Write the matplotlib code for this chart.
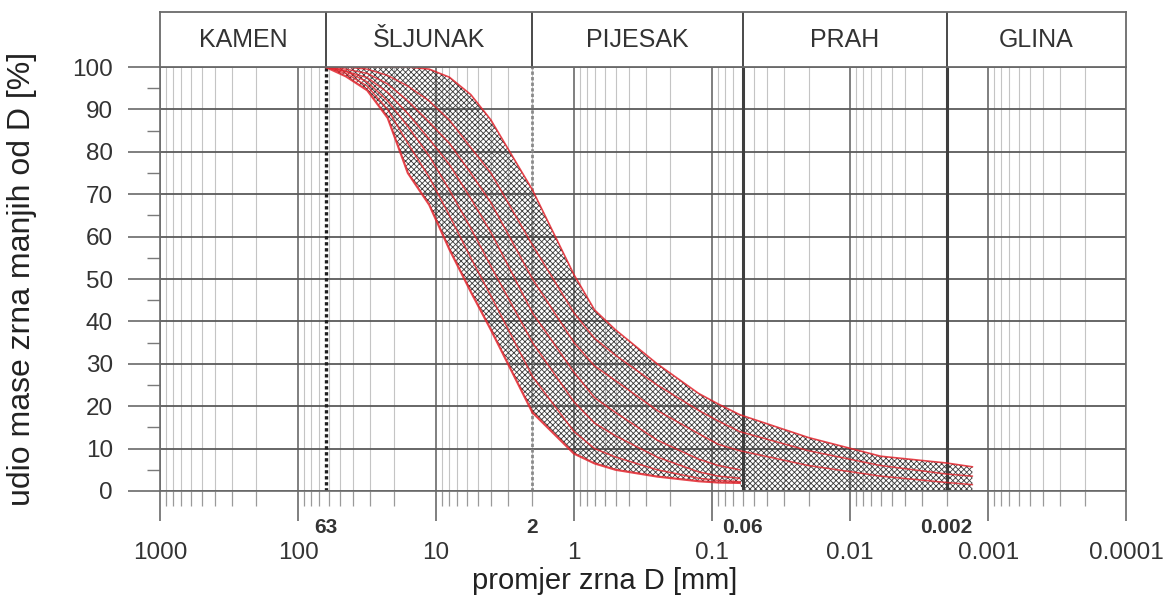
import matplotlib
matplotlib.use('Agg')
import matplotlib.pyplot as plt
from matplotlib.ticker import FixedLocator, NullFormatter, FixedFormatter
import matplotlib.transforms as mtransforms

plt.rcParams['font.family'] = ['Liberation Sans', 'DejaVu Sans']
plt.rcParams['hatch.linewidth'] = 0.6

# grain size classes (boundaries in mm)
zone_names = ['KAMEN', 'ŠLJUNAK', 'PIJESAK', 'PRAH', 'GLINA']
zone_bounds = [1000, 63, 2, 0.06, 0.002, 0.0001]
bound_labels = ['63', '2', '0.06', '0.002']

# sieve and hydrometer sizes [mm]
sieve_d = [63, 45, 31.5, 22.4, 16, 11.2, 8, 5.6, 4, 2, 1, 0.71, 0.5, 0.25,
           0.125, 0.09, 0.063]
hydro_d = [0.02, 0.006, 0.002, 0.0013]

# envelope of all samples (% passing)
env_upper = [100, 100, 100, 100, 100, 99.5, 97.6, 93.5, 87.5, 71, 51, 42.7,
             38, 30, 23, 20.5, 18,
             12.6, 8.2, 6.6, 5.7]
env_lower_d = sieve_d + [0.06, 0.0013]
env_lower = [100, 97.8, 94.5, 88, 75, 67.5, 57, 47, 38, 18.5, 8.8, 6.5, 5,
             3.4, 2.3, 2.0, 1.9,
             0, 0]

# individual grading curves inside the envelope
curve_b = [100, 100, 99.5, 98, 95.5, 92, 87.5, 81, 75, 58, 42, 36, 32, 25,
           19, 16.5, 14, 9.5, 6, 4, 3.5]
curve_c = [100, 99.5, 98.5, 96, 92, 87, 82, 75, 68, 50, 35, 29.5, 26, 19,
           13.5, 11, 9.5, 6, 3.5, 2, 1.5]
curve_d = [100, 99, 97.5, 94, 89, 83, 77, 69, 61, 42, 28, 22, 18.5, 12,
           7.5, 6, 5]
curve_e = [100, 99, 96.5, 92, 86, 79, 71, 62, 53, 35, 21, 16, 13, 8,
           4.5, 3.5, 3]
curve_f = [100, 98.5, 95.5, 90, 82, 74, 65, 55, 46, 27, 14, 10, 8, 5,
           3, 2.5, 2.2]

# axis ticks
x_major = [1000, 100, 10, 1, 0.1, 0.01, 0.001, 0.0001]
x_major_labels = ['1000', '100', '10', '1', '0.1', '0.01', '0.001', '0.0001']
y_major = list(range(0, 101, 10))
y_minor = list(range(5, 100, 10))

RED = '#e3262e'
GRID = '#5a5a5a'

fig = plt.figure(figsize=(11.73, 6), dpi=100)
left, width = 0.1364, 0.8236
ax = fig.add_axes([left, 0.1817, width, 0.7066])
ax.set_xscale('log')
ax.set_xlim(1000, 0.0001)
ax.set_ylim(0, 100)

# minor x positions (2..9 in each decade)
x_minor = []
for dec in x_major[1:]:
    for m in range(2, 10):
        x_minor.append(dec * m)

ax.xaxis.set_major_locator(FixedLocator(x_major))
ax.xaxis.set_major_formatter(FixedFormatter(x_major_labels))
ax.xaxis.set_minor_locator(FixedLocator(x_minor))
ax.xaxis.set_minor_formatter(NullFormatter())
ax.yaxis.set_major_locator(FixedLocator(y_major))
ax.yaxis.set_minor_locator(FixedLocator(y_minor))

ax.grid(which='major', axis='y', color=GRID, lw=1.3)
ax.grid(which='major', axis='x', color='#6a6a6a', lw=1.2)
ax.grid(which='minor', axis='x', color='#c4c4c4', lw=0.8)
ax.set_axisbelow(True)

for s in ax.spines.values():
    s.set_color('#6a6a6a')
    s.set_linewidth(1.2)

ax.tick_params(axis='x', which='major', direction='out', length=21.6, width=1.2,
               color='#6a6a6a', pad=15, labelsize=17.5, labelcolor='#333333')
ax.tick_params(axis='x', which='minor', direction='out', length=10.8, width=0.9,
               color='#9a9a9a')
ax.tick_params(axis='y', which='major', direction='out', length=23, width=1.2,
               color='#6a6a6a', pad=11, labelsize=17.5, labelcolor='#333333')
ax.tick_params(axis='y', which='minor', direction='out', length=9.4, width=1.0,
               color='#7a7a7a')

# class boundary lines
ax.axvline(63, color='#1e1e1e', ls=(0, (1, 0.8)), lw=2.4, zorder=1.5)
ax.axvline(2, color='#8a8a8a', ls=(0, (1.2, 0.8)), lw=2.0, zorder=1.5)
ax.axvline(0.06, color='#3e3e3e', lw=2.2, zorder=1.5)
ax.axvline(0.002, color='#3e3e3e', lw=2.2, zorder=1.5)

# bold boundary labels under the axis
trans = mtransforms.blended_transform_factory(ax.transData, ax.transAxes)
for xb, lab in zip(zone_bounds[1:-1], bound_labels):
    ax.text(xb, -0.085, lab, transform=trans, ha='center', va='center',
            fontsize=15, fontweight='bold', color='#333333')

# hatched envelope
all_d = sieve_d + hydro_d
poly_x = all_d + env_lower_d[::-1]
poly_y = env_upper + env_lower[::-1]
ax.fill(poly_x, poly_y, facecolor='none', edgecolor='#3a3a3a', hatch='xxxxxx',
        lw=0, zorder=2)

# red grading curves
ax.plot(all_d, env_upper, color=RED, lw=1.2, alpha=0.85, zorder=3)
ax.plot(env_lower_d[:len(sieve_d)], env_lower[:len(sieve_d)], color=RED,
        lw=1.6, alpha=0.85, zorder=3)
for c in [curve_b, curve_c, curve_d, curve_e, curve_f]:
    ax.plot(all_d[:len(c)], c, color=RED, lw=1.1, alpha=0.8, zorder=3)

ax.set_ylabel('udio mase zrna manjih od D [%]', fontsize=23, color='#222222')
ax.yaxis.set_label_coords(-0.127, 0.5)
ax.set_xlabel('promjer zrna D [mm]', fontsize=21, color='#222222')
ax.xaxis.set_label_coords(0.4607, -0.18)

# class header boxes
ax_box = fig.add_axes([left, 0.8883, width, 0.0917])
ax_box.set_xscale('log')
ax_box.set_xlim(1000, 0.0001)
ax_box.set_ylim(0, 1)
ax_box.set_xticks([])
ax_box.set_yticks([])
ax_box.minorticks_off()
for s in ax_box.spines.values():
    s.set_color('#6a6a6a')
    s.set_linewidth(1.3)
for xb in zone_bounds[1:-1]:
    ax_box.axvline(xb, color='#4a4a4a', lw=1.4)
for i, name in enumerate(zone_names):
    xc = (zone_bounds[i] * zone_bounds[i + 1]) ** 0.5
    ax_box.text(xc, 0.5, name, ha='center', va='center', fontsize=18,
                color='#333333')

fig.savefig('out.png', dpi=100)
